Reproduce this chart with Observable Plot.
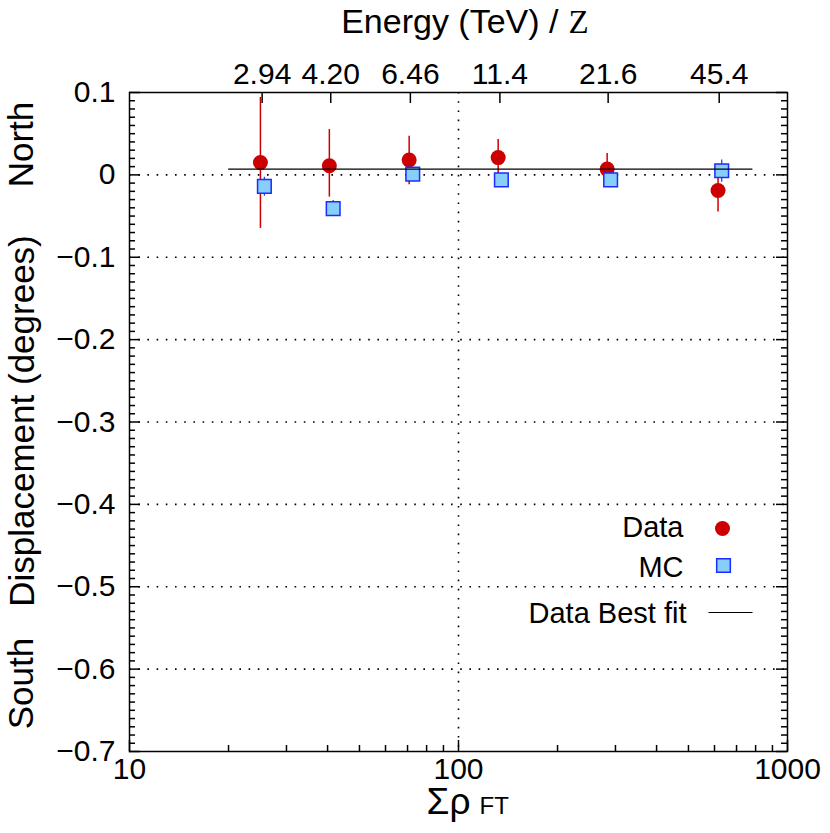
<!DOCTYPE html>
<html>
<head>
<meta charset="utf-8">
<script src="https://cdn.jsdelivr.net/npm/d3@7"></script>
<script src="https://cdn.jsdelivr.net/npm/@observablehq/plot@0.6"></script>
<style>
  html, body { margin: 0; padding: 0; background: #fff; }
  #chart svg { display: block; }
</style>
</head>
<body>
<div id="chart"></div>
<script>
// ---- Data ----
const dataX  = [25.0, 40.5, 70.8, 132, 283, 615];
const dataY  = [0.015, 0.011, 0.018, 0.021, 0.007, -0.019];
const dataLo = [-0.065, -0.027, -0.012, -0.002, -0.012, -0.045];
const dataHi = [0.094, 0.055, 0.047, 0.043, 0.026, 0.006];

const mcX  = [25.7, 41.6, 72.6, 135, 290, 631];
const mcY  = [-0.014, -0.041, 0.001, -0.006, -0.006, 0.005];
const mcLo = [-0.026, -0.050, -0.006, -0.013, -0.013, -0.009];
const mcHi = [-0.003, -0.031, 0.008, 0.001, 0.001, 0.018];

const fitX = [20, 780];
const fitY = [0.007, 0.007];

// ---- Ticks ----
const energyTickX  = [25.3, 40.9, 71.4, 133.6, 285, 620];
const energyLabels = ["2.94", "4.20", "6.46", "11.4", "21.6", "45.4"];
const yMajor = [-0.7, -0.6, -0.5, -0.4, -0.3, -0.2, -0.1, 0, 0.1];
const gridY  = [-0.6, -0.5, -0.4, -0.3, -0.2, -0.1, 0];
const gridX  = [100];
const xMajor = [10, 100, 1000];
const xMinor = [20, 30, 40, 50, 60, 70, 80, 90, 200, 300, 400, 500, 600, 700, 800, 900];
const yMinor = d3.range(-70, 11).filter(v => v % 10 !== 0).map(v => v / 100);

// ---- Build tables ----
const dataRows = dataX.map((x, i) => ({x, y: dataY[i], lo: dataLo[i], hi: dataHi[i]}));
const mcRows = mcX.map((x, i) => ({x, y: mcY[i], lo: mcLo[i], hi: mcHi[i]}));
const fitRows = fitX.map((x, i) => ({x, y: fitY[i]}));

const W = 830, H = 833, ML = 129, MR = 43, MT = 92, MB = 82;
const PW = W - ML - MR, PH = H - MT - MB;

const RED = "#cc0000";
const SKY = "#87cefa";
const BLUE = "#1a2cff";
const dotted = "1.6,7.6";
const fmtY = d => d === 0 ? "0" : d.toFixed(1).replace("-", "\u2212");
const lineSymbol = { draw(ctx) { ctx.moveTo(-22, 0); ctx.lineTo(22, 0); } };
const tickFont = 30;
const tk = { stroke: "black", strokeWidth: 1.5 };

const chart = Plot.plot({
  width: W,
  height: H,
  marginLeft: ML,
  marginRight: MR,
  marginTop: MT,
  marginBottom: MB,
  style: { fontFamily: "'Liberation Sans', Arial, Helvetica, sans-serif", background: "white", color: "black" },
  x: { type: "log", domain: [10, 1000] },
  y: { domain: [-0.7, 0.1] },
  marks: [
    // grid
    Plot.ruleY(gridY, { stroke: "black", strokeWidth: 1.6, strokeDasharray: dotted }),
    Plot.ruleX(gridX, { stroke: "black", strokeWidth: 1.6, strokeDasharray: dotted }),

    // inward ticks, left and right
    Plot.tickY(yMinor, { y: d => d, insetRight: PW - 6, ...tk }),
    Plot.tickY(yMinor, { y: d => d, insetLeft: PW - 6, ...tk }),
    Plot.tickY(yMajor, { y: d => d, insetRight: PW - 11, ...tk }),
    Plot.tickY(yMajor, { y: d => d, insetLeft: PW - 11, ...tk }),
    Plot.axisY(yMajor, { anchor: "left", tickSize: 0, tickPadding: 14, fontSize: tickFont, tickFormat: fmtY, label: null }),

    // inward ticks, bottom
    Plot.tickX(xMinor, { x: d => d, insetTop: PH - 6, ...tk }),
    Plot.tickX(xMajor, { x: d => d, insetTop: PH - 11, ...tk }),
    Plot.axisX(xMajor, { anchor: "bottom", tickSize: 0, tickPadding: 6, fontSize: tickFont, tickFormat: d => String(d), label: null }),

    // top (energy) ticks and labels
    Plot.tickX(energyTickX, { x: d => d, insetBottom: PH - 11, ...tk }),
    Plot.text(energyTickX, { x: d => d, frameAnchor: "top", dy: -9, textAnchor: "middle", lineAnchor: "bottom", fontSize: tickFont, text: (d, i) => energyLabels[i] }),

    // data series
    Plot.ruleX(dataRows, { x: "x", y1: "lo", y2: "hi", stroke: RED, strokeWidth: 1.5 }),
    Plot.dot(dataRows, { x: "x", y: "y", r: 7.5, fill: RED }),
    Plot.ruleX(mcRows, { x: "x", y1: "lo", y2: "hi", stroke: BLUE, strokeWidth: 1.2 }),
    Plot.dot(mcRows, { x: "x", y: "y", symbol: "square", r: 7.7, fill: SKY, stroke: BLUE, strokeWidth: 1.5 }),
    Plot.line(fitRows, { x: "x", y: "y", stroke: "black", strokeWidth: 1.2 }),

    // legend
    Plot.text(["Data"], { frameAnchor: "top-right", dx: -104, dy: 435, textAnchor: "end", lineAnchor: "middle", fontSize: 29, text: d => d }),
    Plot.dot(["Data"], { frameAnchor: "top-right", dx: -65, dy: 436, r: 7.5, fill: RED }),
    Plot.text(["MC"], { frameAnchor: "top-right", dx: -104, dy: 475, textAnchor: "end", lineAnchor: "middle", fontSize: 29, text: d => d }),
    Plot.dot(["MC"], { frameAnchor: "top-right", dx: -64, dy: 473, symbol: "square", r: 7.7, fill: SKY, stroke: BLUE, strokeWidth: 1.5 }),
    Plot.text(["Data Best fit"], { frameAnchor: "top-right", dx: -101, dy: 521, textAnchor: "end", lineAnchor: "middle", fontSize: 29, text: d => d }),
    Plot.dot(["fit"], { frameAnchor: "top-right", dx: -57, dy: 520, symbol: lineSymbol, r: 5, fill: "none", stroke: "black", strokeWidth: 1.2 }),

    // titles
    Plot.text(["Energy (TeV) /"], { frameAnchor: "top", dx: 100, dy: -60, textAnchor: "end", lineAnchor: "bottom", fontSize: 34, text: d => d }),
    Plot.text(["Z"], { frameAnchor: "top", dx: 110, dy: -60, textAnchor: "start", lineAnchor: "bottom", fontSize: 33, fontFamily: "'Liberation Serif', 'Times New Roman', serif", text: d => d }),
    Plot.text(["\u03A3\u03C1"], { frameAnchor: "bottom", dx: 12, dy: 62, textAnchor: "end", lineAnchor: "bottom", fontSize: 37, text: d => d }),
    Plot.text(["FT"], { frameAnchor: "bottom", dx: 21, dy: 62, textAnchor: "start", lineAnchor: "bottom", fontSize: 24, text: d => d }),
    Plot.text(["Displacement (degrees)"], { frameAnchor: "left", dx: -107, dy: -1, rotate: -90, textAnchor: "middle", lineAnchor: "middle", fontSize: 35, text: d => d }),
    Plot.text(["North"], { frameAnchor: "top-left", dx: -108, dy: 52, rotate: -90, textAnchor: "middle", lineAnchor: "middle", fontSize: 35, text: d => d }),
    Plot.text(["South"], { frameAnchor: "bottom-left", dx: -108, dy: -68, rotate: -90, textAnchor: "middle", lineAnchor: "middle", fontSize: 35, text: d => d }),

    Plot.frame({ stroke: "black", strokeWidth: 1.5 })
  ]
});

document.getElementById("chart").appendChild(chart);
</script>
</body>
</html>
